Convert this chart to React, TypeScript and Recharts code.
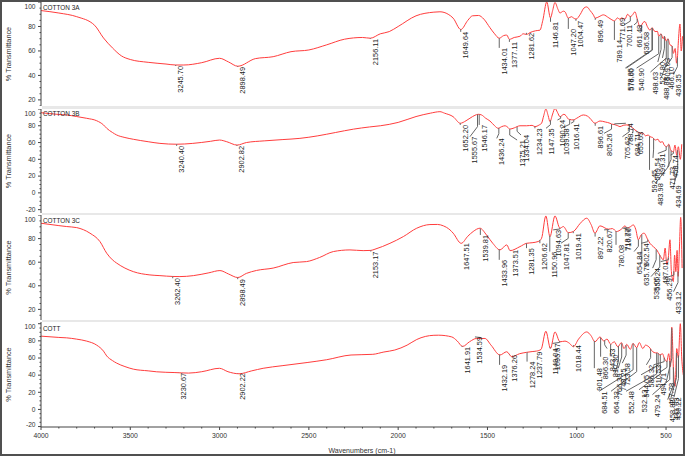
import React from "react";
import { LineChart, Line, XAxis, YAxis, ReferenceLine, ReferenceDot } from "recharts";

const FONT = '"Liberation Sans", Arial, sans-serif';
const RED = "#ff3d3d";
const LEADER = "#666666";
const AXIS = "#444444";
const WN_DOMAIN: [number, number] = [405, 4000];

// COTTON 3A
const wn3A = [4000, 3900, 3800, 3700, 3650, 3600, 3550, 3500, 3400, 3300, 3245, 3200, 3100, 3000, 2950, 2898, 2800, 2700, 2600, 2500, 2400, 2300, 2200, 2156, 2100, 2050, 2000, 1900, 1800, 1766, 1720, 1692, 1649, 1610, 1584, 1550, 1520, 1486, 1460, 1434, 1410, 1392, 1377, 1350, 1318, 1300, 1281, 1262, 1230, 1206, 1190, 1168, 1147, 1135, 1122, 1105, 1094, 1075, 1066, 1047, 1030, 1019, 1004, 980, 960, 944, 925, 907, 896, 875, 851, 820, 795, 789, 772, 760, 748, 730, 715, 701, 690, 674, 661, 646, 637, 630, 618, 605, 590, 578, 562, 548, 541, 528, 516, 509, 499, 489, 478, 466, 459, 449, 441, 436, 430, 422, 415, 408];
const t3A = [93, 91, 88, 81, 70.6, 62.5, 56, 53, 50.7, 49.3, 48.5, 48.5, 50.4, 54, 51, 47.5, 53.7, 55.3, 59.4, 60.8, 65, 69.6, 71, 70.4, 74, 75.8, 80, 88.7, 91.7, 92, 90, 86.8, 77.5, 85, 88.7, 89, 86, 79, 74, 70.4, 72.5, 73, 69.5, 71, 72, 74, 73.5, 75, 76.5, 77, 85, 100, 87, 93, 99.6, 94, 91, 92.5, 92, 86.8, 88, 87, 86, 90, 95, 96, 93, 89.5, 86.8, 88, 89.5, 87, 84.8, 84.5, 87, 86, 87, 86, 90, 88, 89, 92, 86, 80, 81, 83, 84, 80, 77, 79, 75.8, 76, 72, 74, 70, 72, 68, 70, 65, 64, 58, 62, 50, 55, 70, 82, 60, 72];

// COTTON 3B
const wn3B = [4000, 3900, 3856, 3800, 3744, 3688, 3650, 3632, 3600, 3576, 3530, 3483, 3400, 3334, 3240, 3150, 3050, 3000, 2960, 2902, 2850, 2750, 2650, 2550, 2450, 2350, 2250, 2160, 2100, 2000, 1900, 1820, 1766, 1740, 1692, 1652, 1620, 1598, 1570, 1552, 1533, 1510, 1486, 1460, 1440, 1420, 1402, 1385, 1375, 1350, 1318, 1281, 1250, 1234, 1210, 1197, 1185, 1173, 1160, 1150, 1135, 1122, 1108, 1094, 1072, 1060, 1047, 1039, 1019, 1000, 963, 940, 926, 898, 870, 840, 814, 805, 790, 770, 758, 740, 720, 702, 690, 674, 660, 646, 630, 615, 600, 590, 575, 560, 545, 534, 520, 510, 496, 485, 471, 459, 450, 440, 431, 420, 412];
const t3B = [95.6, 93.5, 92.9, 91, 88.9, 86, 81, 77, 72, 69, 66, 63.9, 61, 59, 58, 59, 61.5, 63, 61, 57, 60, 62, 63.5, 65, 68, 72, 76, 78.6, 80, 84, 91, 95, 96.8, 95, 90.8, 83, 86, 89, 92.5, 93.7, 92.9, 89, 85.7, 80, 77, 79, 80, 78, 76, 77.5, 80, 80, 80.5, 79, 81, 83, 92, 100, 92, 85, 94, 100.8, 96, 90.8, 93.7, 92, 88, 87.5, 87, 89, 92.9, 91.5, 89, 83, 85.7, 84.5, 83, 82, 81.5, 80, 79, 80.5, 81, 79.8, 78, 75, 73, 71, 71.5, 68, 69, 67, 66, 63, 64, 60.3, 61, 57, 55, 58, 50, 49, 57, 45, 55, 40, 58];

// COTTON 3C
const wn3C = [4000, 3900, 3856, 3800, 3726, 3670, 3632, 3600, 3576, 3530, 3483, 3390, 3334, 3262, 3222, 3147, 3060, 2998, 2950, 2898, 2850, 2793, 2700, 2588, 2513, 2440, 2363, 2270, 2196, 2153, 2130, 2046, 1971, 1896, 1822, 1780, 1747, 1710, 1692, 1647, 1610, 1580, 1542, 1505, 1470, 1430, 1392, 1373, 1318, 1281, 1250, 1216, 1197, 1173, 1150, 1122, 1094, 1075, 1047, 1019, 980, 944, 920, 898, 870, 823, 800, 777, 750, 730, 718, 700, 683, 670, 655, 640, 623, 602, 590, 570, 552, 535, 515, 505, 496, 487, 478, 470, 459, 452, 445, 438, 432, 425, 418, 410];
const t3C = [93, 91, 90.2, 89.3, 84.6, 77.5, 67.6, 62, 59.2, 55, 52, 49.2, 48.6, 47.9, 47.8, 48.6, 51, 52.9, 50, 47, 50.5, 53, 55, 59.7, 60.5, 64, 69, 70.4, 69.8, 70, 71, 76, 81.7, 88.8, 91.9, 92, 90.8, 87.4, 84.6, 76, 82, 86, 88.8, 83, 76, 70.4, 74.7, 69.8, 73.2, 76, 76.5, 77.5, 80.3, 99.2, 81.7, 99.2, 88.8, 90.2, 85, 86, 93, 97.3, 92, 84.6, 90.8, 88, 88.5, 86, 88, 90.8, 89, 90, 91.6, 88, 79, 83, 84.6, 79, 76, 73, 70.4, 66, 62, 72, 58, 64, 79, 52, 43.6, 66, 52, 70, 48, 72, 98, 55];

// COTT
const wnCott = [4000, 3900, 3856, 3800, 3744, 3688, 3650, 3632, 3600, 3576, 3530, 3483, 3400, 3352, 3250, 3173, 3100, 3001, 2953, 2891, 2820, 2756, 2650, 2510, 2400, 2264, 2142, 2080, 2019, 1950, 1896, 1800, 1773, 1700, 1670, 1639, 1600, 1561, 1514, 1480, 1430, 1392, 1364, 1320, 1281, 1250, 1225, 1200, 1173, 1147, 1122, 1094, 1066, 1040, 1019, 990, 944, 920, 898, 870, 850, 830, 810, 790, 770, 750, 735, 720, 700, 685, 664, 650, 630, 615, 596, 574, 560, 546, 534, 520, 510, 496, 485, 475, 468, 458, 449, 440, 431, 420, 412, 403];
const tCott = [85.5, 84, 83.5, 82, 79.7, 75, 68, 62.4, 57, 54, 50, 47, 45, 43.9, 43, 42.4, 44, 48, 44, 41.6, 45, 48, 51, 54.7, 58, 63.5, 64.3, 67, 69.3, 75, 81.6, 86.5, 86.6, 84.6, 80, 73.5, 79, 82.8, 82.8, 75, 63.5, 67.3, 61.5, 65, 66.6, 67.5, 68.1, 70, 91.2, 71.2, 90.4, 78.9, 79.7, 77, 73.1, 82, 90.4, 86, 78.9, 84.6, 80, 82, 76, 79, 73, 78, 71, 76, 70, 77, 72, 78, 71, 75, 73, 67.3, 66, 65.8, 63.5, 65, 60, 55.8, 65, 50, 96, 45, 27, 71, 60, 100, 60, 40];

// peak picks: [wavenumber, %T where the label starts, optional wavenumber the label is moved to]
type Peak = [number, number, number?];

const peaks3A: Peak[] = [
  [3245.7, 47.7], [2898.49, 46.9], [2156.11, 69.8], [1649.64, 75.6], [1434.01, 62.5],
  [1377.11, 67.4], [1281.62, 74.8], [1146.81, 83.8], [1047.2, 78], [1004.47, 84.6],
  [896.49, 85.4], [789.14, 69], [771.69, 87], [700.11, 81.3, 735], [661.48, 81.3, 679],
  [636.58, 75.6], [578.85, 46, 728], [576.0, 46, 722], [540.9, 46, 665], [527.8, 51, 546],
  [509.03, 54.3, 520], [498.63, 42.8, 587], [488.88, 38.5, 526], [466.1, 46.9, 500], [436.35, 41, 458],
];

const peaks3B: Peak[] = [
  [3240.4, 56], [2902.82, 56], [1652.2, 81], [1555.67, 67, 1598], [1546.17, 81],
  [1436.24, 65, 1448], [1375.21, 63, 1334], [1334.04, 69, 1312], [1234.23, 77], [1147.35, 77, 1172],
  [1090.24, 86.9, 1108], [1039.58, 77, 1088], [1016.41, 83, 1032], [896.61, 80], [805.26, 71, 847],
  [788.74, 83, 725], [705.62, 67, 744], [684.71, 71, 688], [655.63, 73, 669], [592.45, 27.4],
  [569.54, 41.7, 573], [499.31, 47, 546], [483.98, 11.5, 559], [471.73, 31, 491], [458.74, 45, 475],
  [434.69, 9, 456],
];

const peaks3C: Peak[] = [
  [3262.4, 46.4], [2898.49, 45.6], [2153.17, 69], [1647.51, 76.1], [1539.81, 83.1],
  [1433.96, 62], [1373.51, 70.4], [1281.35, 71.9], [1206.62, 76.1], [1150.96, 69],
  [1094.63, 87.4, 1132], [1047.81, 76.1, 1088], [1019.41, 84.6], [897.22, 81.7], [820.67, 87.4, 847],
  [780.08, 74.7], [718.77, 88.8, 744], [710.06, 88.8, 736], [654.84, 69, 679], [635.79, 59.2],
  [602.54, 76, 640], [555.24, 55, 575], [535.05, 47.8, 584], [487.01, 60.5, 530], [456.29, 46.4, 511],
  [433.12, 35, 458],
];

const peaksCott: Peak[] = [
  [3230.67, 42.7], [2902.22, 42.4], [1641.91, 73.1], [1534.59, 84.6, 1570], [1432.19, 52],
  [1376.26, 63.5], [1278.24, 55.8], [1237.79, 67.3], [1149.04, 71.2], [1095.67, 77, 1136],
  [1018.44, 75], [901.48, 48.2], [866.3, 61.5], [843.53, 71, 830], [810.3, 64, 812],
  [766.39, 42, 786], [748.25, 48, 768], [723.58, 54, 745], [684.51, 21.2, 875], [664.33, 21.2, 808],
  [586.32, 52, 610], [552.48, 21.2, 724], [544.05, 40.4, 640], [532.13, 23, 651], [510.53, 52, 570],
  [494.71, 42.7, 540], [479.24, 17.3, 576], [467.78, 31, 500], [458.82, 11.5, 491], [441.03, 13.9, 472],
  [430.22, 14, 456],
];

// linear read of a spectrum at a given wavenumber (wavenumbers descend)
const curveAt = (wn: number[], t: number[], w: number) => {
  for (let i = 0; i < wn.length - 1; i++) {
    if (w <= wn[i] && w >= wn[i + 1]) {
      const f = (wn[i] - w) / (wn[i] - wn[i + 1]);
      return t[i] + (t[i + 1] - t[i]) * f;
    }
  }
  return t[t.length - 1];
};

const minorTicks = (lo: number, hi: number, step: number) => {
  const out: number[] = [];
  for (let v = Math.ceil(lo / step) * step; v <= hi + 1e-9; v += step) out.push(v);
  return out;
};

const YTick = (props: any) => {
  const { x, y, payload, plotH } = props;
  const v = payload.value;
  const major = Math.abs(v % 20) < 1e-6;
  const ly = Math.min(Math.max(y, 4.5), plotH - 2);
  return (
    <g>
      <line x1={x - (major ? 3 : 1.5)} x2={x} y1={y} y2={y} stroke={AXIS} strokeWidth={1} />
      {major && (
        <text x={x - 5.5} y={ly} dy="0.35em" textAnchor="end" fontSize={6.6} fill="#333" fontFamily={FONT}>
          {v}
        </text>
      )}
    </g>
  );
};

const XTick = (props: any) => {
  const { x, y, payload } = props;
  const v = payload.value;
  const major = v % 500 === 0;
  return (
    <g>
      <line x1={x} x2={x} y1={y} y2={y + (major ? 3 : 1.5)} stroke={AXIS} strokeWidth={1} />
      {major && (
        <text x={x} y={y + 9} dy="0.35em" textAnchor="middle" fontSize={6.8} fill="#333" fontFamily={FONT}>
          {v}
        </text>
      )}
    </g>
  );
};

const PeakText = ({ cx, cy, text }: { cx: number; cy: number; text: string }) => (
  <text
    x={cx + 7.5}
    y={cy}
    transform={`rotate(-90 ${cx + 7.5} ${cy})`}
    textAnchor="end"
    fontSize={7.4}
    fill="#222"
    fontFamily={FONT}
  >
    {text}
  </text>
);

const peakMarks = (wn: number[], t: number[], peaks: Peak[]) => {
  const out: React.ReactElement[] = [];
  peaks.forEach(([w, top, lx], i) => {
    const c = curveAt(wn, t, w);
    const L = lx ?? w;
    if (L === w) {
      out.push(
        <ReferenceLine key={`l${i}`} segment={[{ x: w, y: c }, { x: w, y: top }]} stroke={LEADER} strokeWidth={1} ifOverflow="visible" />
      );
    } else {
      const mid = top + (c - top) * 0.45;
      out.push(
        <ReferenceLine key={`a${i}`} segment={[{ x: w, y: c }, { x: w, y: mid }]} stroke={LEADER} strokeWidth={1} ifOverflow="visible" />
      );
      out.push(
        <ReferenceLine key={`b${i}`} segment={[{ x: w, y: mid }, { x: L, y: top }]} stroke={LEADER} strokeWidth={1} ifOverflow="visible" />
      );
    }
    out.push(
      <ReferenceDot
        key={`d${i}`}
        x={L}
        y={top}
        r={1}
        ifOverflow="visible"
        shape={(p: any) => <PeakText cx={p.cx} cy={p.cy} text={w.toFixed(2)} />}
      />
    );
  });
  return out;
};

interface PanelProps {
  wn: number[];
  t: number[];
  peaks: Peak[];
  yDomain: [number, number];
  top: number;
  plotH: number;
  showX?: boolean;
}

const Panel = ({ wn, t, peaks, yDomain, top, plotH, showX }: PanelProps) => {
  const rows = wn.map((w, i) => ({ wn: w, t: t[i] }));
  const xAxisH = 21;
  return (
    <div style={{ position: "absolute", left: 0, top }}>
      <LineChart
        width={685}
        height={plotH + (showX ? xAxisH : 0)}
        data={rows}
        margin={{ top: 0, right: 2, bottom: 0, left: 0 }}
      >
        <XAxis
          type="number"
          dataKey="wn"
          domain={WN_DOMAIN}
          reversed
          allowDataOverflow
          hide={!showX}
          height={xAxisH}
          ticks={minorTicks(500, 4000, 100)}
          interval={0}
          tickLine={false}
          tickSize={0}
          tickMargin={0}
          tick={(p: any) => <XTick {...p} />}
          axisLine={{ stroke: AXIS }}
        />
        <YAxis
          type="number"
          domain={yDomain}
          allowDataOverflow
          width={41}
          ticks={minorTicks(yDomain[0], yDomain[1], 5)}
          interval={0}
          tickLine={false}
          tickSize={0}
          tickMargin={0}
          tick={(p: any) => <YTick {...p} plotH={plotH} />}
          axisLine={{ stroke: AXIS }}
        />
        <Line
          dataKey="t"
          type="monotone"
          stroke={RED}
          strokeWidth={1}
          dot={false}
          isAnimationActive={false}
        />
        {peakMarks(wn, t, peaks)}
      </LineChart>
    </div>
  );
};

const names = [
  { label: "COTTON 3A", y: 9.5, mid: 54 },
  { label: "COTTON 3B", y: 116, mid: 161 },
  { label: "COTTON 3C", y: 223, mid: 267.5 },
  { label: "COTT", y: 331, mid: 374.5 },
];

export default function App() {
  return (
    <div
      style={{
        position: "absolute",
        left: 0,
        top: 0,
        width: 685,
        height: 456,
        background: "#fff",
        overflow: "hidden",
      }}
    >
      {/* light strips between the stacked panels */}
      <div style={{ position: "absolute", left: 42, top: 106, width: 641, height: 3, background: "#e8e8e8" }} />
      <div style={{ position: "absolute", left: 42, top: 213, width: 641, height: 2, background: "#e8e8e8" }} />
      <div style={{ position: "absolute", left: 42, top: 320, width: 641, height: 2, background: "#e8e8e8" }} />

      <Panel wn={wn3A} t={t3A} peaks={peaks3A} yDomain={[15, 100]} top={2} plotH={104} />
      <Panel wn={wn3B} t={t3B} peaks={peaks3B} yDomain={[-24, 100]} top={109} plotH={104} />
      <Panel wn={wn3C} t={t3C} peaks={peaks3C} yDomain={[11, 100]} top={215} plotH={105} />
      <Panel wn={wnCott} t={tCott} peaks={peaksCott} yDomain={[-20.5, 102]} top={322} plotH={105} showX />

      <svg
        width={685}
        height={456}
        style={{ position: "absolute", left: 0, top: 0, pointerEvents: "none" }}
      >
        {names.map((n) => (
          <g key={n.label}>
            <text x={43} y={n.y} fontSize={6.4} fill="#222" fontFamily={FONT}>
              {n.label}
            </text>
            <text
              x={11}
              y={n.mid}
              transform={`rotate(-90 11 ${n.mid})`}
              textAnchor="middle"
              fontSize={7.3}
              fill="#333"
              fontFamily={FONT}
            >
              % Transmittance
            </text>
          </g>
        ))}
        <text x={362} y={453} textAnchor="middle" fontSize={7} fill="#333" fontFamily={FONT}>
          Wavenumbers (cm-1)
        </text>
      </svg>

      <div
        style={{
          position: "absolute",
          left: 0,
          top: 0,
          width: 685,
          height: 456,
          boxSizing: "border-box",
          border: "2px solid #505050",
          pointerEvents: "none",
        }}
      />
    </div>
  );
}
